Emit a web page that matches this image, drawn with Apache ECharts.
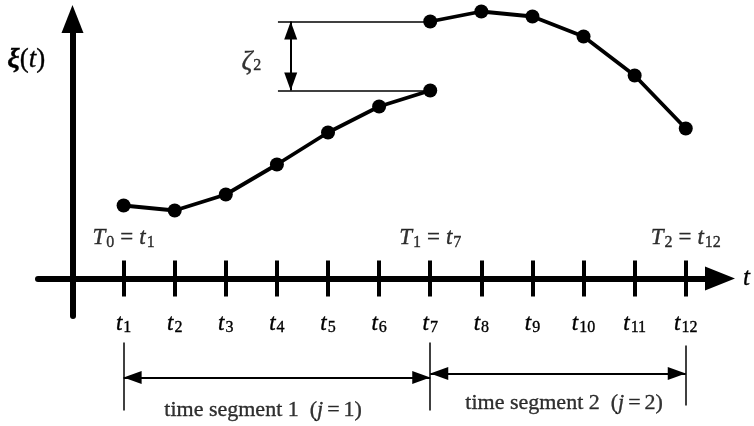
<!DOCTYPE html>
<html>
<head>
<meta charset="utf-8">
<script src="https://cdn.jsdelivr.net/npm/echarts@6/dist/echarts.min.js"></script>
<style>
    html, body { margin: 0; padding: 0; background: #fff; }
    #chart { width: 754px; height: 426px; }
</style>
</head>
<body>
<div id="chart"></div>
<script>
const ink = '#000';
const serif = "'Liberation Serif', serif";

// time steps t1..t12 and the two segments of xi(t)
const steps = [1, 2, 3, 4, 5, 6, 7, 8, 9, 10, 11, 12];
const seg1Steps = [1, 2, 3, 4, 5, 6, 7];
const seg1Values = [7.3, 6.8, 8.4, 11.4, 14.6, 17.2, 18.8];
const seg2Steps = [7, 8, 9, 10, 11, 12];
const seg2Values = [25.7, 26.7, 26.2, 24.2, 20.3, 15.0];

// segment boundaries T0, T1, T2
const boundarySteps = [1, 7, 12];
const boundaryLevel = 4.05;

// jump zeta_2 bracket
const bracketStart = 4.02;
const zetaArrowAt = 4.27;
const zetaLabelAt = [3.5, 21.7];

// time segment annotations under the axis
const fenceTop = [-6.4, -6.4, -6.7];
const fenceBottom = [-13.2, -13.2, -12.7];
const segArrowLevels = [-9.9, -9.5];
const segLabelAt = [[3.73, -13.15], [9.62, -12.45]];
const segNames = ['1', '2'];

const xMin = -0.675, xMax = 12.67;
const yMin = -3.75, yMax = 25.95;

// a hair of outline makes the thin serif read as dark as the original type
const heavy = {textBorderColor: ink, textBorderWidth: 0.35};

const rich = {
    i: Object.assign({fontFamily: serif, fontStyle: 'italic', fontSize: 23, color: ink}, heavy),
    s: Object.assign({fontFamily: serif, fontSize: 16, color: ink, padding: [9, 0, 0, 1]}, heavy),
    r: Object.assign({fontFamily: serif, fontSize: 23, color: ink}, heavy),
    eq: Object.assign({fontFamily: serif, fontSize: 23, color: ink, padding: [0, 6]}, heavy),
    z: Object.assign({fontFamily: serif, fontStyle: 'italic', fontSize: 27, color: ink}, heavy),
    ti: Object.assign({fontFamily: serif, fontStyle: 'italic', fontSize: 22, color: ink}, heavy),
    tr: Object.assign({fontFamily: serif, fontSize: 22, color: ink}, heavy),
    teq: Object.assign({fontFamily: serif, fontSize: 22, color: ink, padding: [0, 4]}, heavy)
};

function pairs(xs, ys) {
    return xs.map(function (x, k) { return [x, ys[k]]; });
}

function plain(a, b) {
    return [{coord: a}, {coord: b}];
}

function arrowEnd(p) {
    return {coord: p, symbol: 'triangle', symbolSize: [13, 18], symbolOffset: [0, 9]};
}

const seg1End = seg1Values[seg1Values.length - 1];
const seg2Start = seg2Values[0];

const thinLines = [
    plain([bracketStart, seg1End], [7, seg1End]),
    plain([bracketStart, seg2Start], [7, seg2Start])
];
boundarySteps.forEach(function (s, k) {
    thinLines.push(plain([s, fenceTop[k]], [s, fenceBottom[k]]));
});

const arrowLines = [
    [arrowEnd([zetaArrowAt, seg1End]), arrowEnd([zetaArrowAt, seg2Start])],
    [arrowEnd([boundarySteps[0], segArrowLevels[0]]), arrowEnd([boundarySteps[1], segArrowLevels[0]])],
    [arrowEnd([boundarySteps[1], segArrowLevels[1]]), arrowEnd([boundarySteps[2], segArrowLevels[1]])]
];

const textPoints = [];
boundarySteps.forEach(function (s, k) {
    textPoints.push({
        value: [s, boundaryLevel],
        name: '{i|T}{s|' + k + '}{eq|=}{i|t}{s|' + s + '}'
    });
});
textPoints.push({value: zetaLabelAt, name: '{z|ζ}{s|2}'});
segNames.forEach(function (n, k) {
    textPoints.push({
        value: segLabelAt[k],
        name: '{tr|time segment ' + n + '  (}{ti|j}{teq|=}{tr|' + n + ')}'
    });
});

const chart = echarts.init(document.getElementById('chart'), null, {renderer: 'canvas'});

const axisLineStyle = {color: ink, width: 6, cap: 'round'};
const tickStyle = {color: ink, width: 4};

// the annotation grid shares the x scale and the 10 px per unit y scale of the plot
const annoBottom = 6;
const annoMin = yMax - (426 - 19 - annoBottom) / 10;

const option = {
    animation: false,
    backgroundColor: '#fff',
    grid: [
        {left: 38, right: 34, top: 19, bottom: 110, containLabel: false},
        {left: 38, right: 34, top: 19, bottom: annoBottom, containLabel: false}
    ],
    xAxis: [
        {
            type: 'value',
            gridIndex: 0,
            min: xMin,
            max: xMax,
            position: 'bottom',
            splitLine: {show: false},
            name: 't',
            nameLocation: 'end',
            nameGap: 23,
            nameTextStyle: Object.assign({fontFamily: serif, fontStyle: 'italic', fontSize: 25, color: ink}, heavy),
            axisLine: {onZero: true, symbol: ['none', 'triangle'], symbolSize: [24, 30], lineStyle: axisLineStyle},
            axisTick: {show: true, inside: false, length: 18, customValues: steps, lineStyle: tickStyle},
            axisLabel: {
                show: true,
                margin: -5,
                customValues: steps,
                formatter: function (v) { return '{i|t}{s|' + v + '}'; },
                rich: rich
            }
        },
        {
            type: 'value',
            gridIndex: 0,
            min: xMin,
            max: xMax,
            position: 'top',
            offset: -259.5,
            splitLine: {show: false},
            axisLine: {onZero: false, show: false},
            axisTick: {show: true, inside: false, length: 18, customValues: steps, lineStyle: tickStyle},
            axisLabel: {show: false}
        },
        {
            type: 'value',
            gridIndex: 1,
            min: xMin,
            max: xMax,
            show: false
        }
    ],
    yAxis: [
        {
            type: 'value',
            gridIndex: 0,
            min: yMin,
            max: yMax,
            splitLine: {show: false},
            axisTick: {show: false},
            axisLabel: {show: false},
            axisLine: {onZero: true, symbol: ['none', 'triangle'], symbolSize: [22, 28], lineStyle: axisLineStyle}
        },
        {
            type: 'value',
            gridIndex: 1,
            min: annoMin,
            max: yMax,
            show: false
        }
    ],
    graphic: [{
        type: 'text',
        left: 7,
        top: 46,
        style: {
            text: '{b|ξ}{r|(}{i|t}{r|)}',
            rich: {
                b: {font: "italic bold 28px 'Liberation Serif', serif", fill: ink, stroke: ink, lineWidth: 0.35},
                r: {font: "normal 27px 'Liberation Serif', serif", fill: ink, stroke: ink, lineWidth: 0.35},
                i: {font: "italic 27px 'Liberation Serif', serif", fill: ink, stroke: ink, lineWidth: 0.35}
            }
        }
    }],
    series: [
        {
            name: 'segment 1',
            type: 'line',
            clip: false,
            data: pairs(seg1Steps, seg1Values),
            symbol: 'circle',
            symbolSize: 14,
            itemStyle: {color: ink},
            lineStyle: {color: ink, width: 3.8},
            z: 5
        },
        {
            name: 'segment 2',
            type: 'line',
            clip: false,
            data: pairs(seg2Steps, seg2Values),
            symbol: 'circle',
            symbolSize: 14,
            itemStyle: {color: ink},
            lineStyle: {color: ink, width: 3.8},
            z: 5
        },
        {
            name: 'guides',
            type: 'line',
            xAxisIndex: 2,
            yAxisIndex: 1,
            clip: false,
            data: [],
            markLine: {
                silent: true,
                symbol: 'none',
                label: {show: false},
                lineStyle: {color: ink, width: 1.5, type: 'solid'},
                data: thinLines
            }
        },
        {
            name: 'arrows',
            type: 'line',
            xAxisIndex: 2,
            yAxisIndex: 1,
            clip: false,
            data: [],
            markLine: {
                silent: true,
                label: {show: false},
                lineStyle: {color: ink, width: 2, type: 'solid'},
                itemStyle: {color: ink},
                data: arrowLines
            }
        },
        {
            name: 'texts',
            type: 'scatter',
            xAxisIndex: 2,
            yAxisIndex: 1,
            clip: false,
            symbolSize: 0,
            silent: true,
            itemStyle: {color: ink},
            data: textPoints,
            label: {
                show: true,
                position: 'inside',
                color: ink,
                textBorderColor: ink,
                textBorderWidth: 0.35,
                formatter: '{b}',
                rich: rich
            }
        }
    ]
};

chart.setOption(option);
</script>
</body>
</html>
